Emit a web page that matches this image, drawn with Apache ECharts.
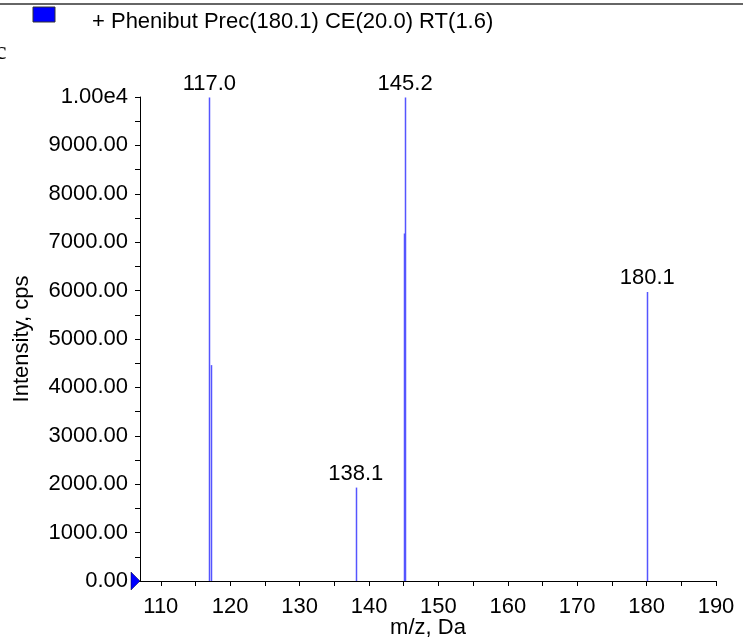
<!DOCTYPE html>
<html><head><meta charset="utf-8">
<script src="https://cdn.jsdelivr.net/npm/echarts@6/dist/echarts.min.js"></script>
<style>html,body{margin:0;padding:0;background:#fff}#c{width:743px;height:641px}</style>
</head><body><div id="c"></div>
<script>
// Peak data (m/z, intensity in cps)
const mz = [117.0, 117.2, 138.1, 145.0, 145.2, 180.1];
const intensity = [9990, 4460, 1930, 7180, 9990, 5970];
const peakLabels = ['117.0', '', '138.1', '', '145.2', '180.1'];
// Axis ticks
const xLabelValues = [110, 120, 130, 140, 150, 160, 170, 180, 190];
const xTickValues = [110, 115, 120, 125, 130, 135, 140, 145, 150, 155, 160, 165, 170, 175, 180, 185, 190];
const titleText = '+ Phenibut Prec(180.1) CE(20.0) RT(1.6)';

const FONT = 'Liberation Sans';
const FS = 22;
const chart = echarts.init(document.getElementById('c'), null, {renderer: 'canvas'});

const data = mz.map((m, i) => [m, intensity[i]]);

const option = {
  animation: false,
  backgroundColor: '#fff',
  grid: {left: 140, right: 27, top: 97, bottom: 60, containLabel: false, outerBoundsMode: 'none'},
  xAxis: {
    type: 'value', min: 107, max: 190,
    name: 'm/z, Da', nameLocation: 'middle', nameGap: 36, nameMoveOverlap: false,
    nameTextStyle: {fontFamily: FONT, fontSize: FS, color: '#000'},
    axisLine: {show: true, lineStyle: {color: '#000', width: 1}},
    axisTick: {show: true, customValues: xTickValues, length: 5, lineStyle: {color: '#000'}},
    axisLabel: {customValues: xLabelValues, fontFamily: FONT, fontSize: FS, color: '#000', margin: 15},
    splitLine: {show: false}
  },
  yAxis: {
    type: 'value', min: 0, max: 10000, interval: 1000,
    name: 'Intensity, cps', nameLocation: 'middle', nameGap: 107, nameMoveOverlap: false,
    nameTextStyle: {fontFamily: FONT, fontSize: FS, color: '#000'},
    axisLine: {show: true, lineStyle: {color: '#000', width: 1}},
    axisTick: {show: true, length: 5, lineStyle: {color: '#000'}},
    minorTick: {show: true, splitNumber: 2, length: 5, lineStyle: {color: '#000'}},
    axisLabel: {
      fontFamily: FONT, fontSize: FS, color: '#000', margin: 12,
      formatter: v => v === 10000 ? '1.00e4' : v.toFixed(2)
    },
    splitLine: {show: false}
  },
  series: [{
    type: 'custom',
    clip: false,
    data: data,
    renderItem: function (params, api) {
      const x = api.value(0), y = api.value(1);
      const p0 = api.coord([x, 0]);
      const p1 = api.coord([x, y]);
      const px = Math.round(p0[0]) + 0.5;
      const children = [{
        type: 'line',
        shape: {x1: px, y1: p0[1], x2: px, y2: p1[1]},
        style: {stroke: '#5555ff', lineWidth: 1.5}
      }];
      const lab = peakLabels[params.dataIndex];
      if (lab) {
        children.push({
          type: 'text',
          style: {text: lab, x: p1[0], y: p1[1] - 3, align: 'center', verticalAlign: 'bottom',
            font: FS + 'px "' + FONT + '"', fill: '#000'}
        });
      }
      return {type: 'group', children: children};
    }
  }]
};
chart.setOption(option);

const origin = chart.convertToPixel({gridIndex: 0}, [107, 0]);
chart.setOption({
  graphic: [
    {type: 'line', shape: {x1: 0, y1: 4, x2: 743, y2: 4}, style: {stroke: '#333', lineWidth: 1.5}},
    {type: 'rect', shape: {x: 33, y: 7, width: 22, height: 15}, style: {fill: '#0000ff', stroke: '#333', lineWidth: 1}},
    {type: 'text', style: {text: titleText, x: 92, y: 22, verticalAlign: 'middle', font: FS + 'px "' + FONT + '"', fill: '#000'}},
    {type: 'text', style: {text: 'c', x: -5, y: 52, verticalAlign: 'middle', font: '26px "Liberation Serif"', fill: '#000'}},
    {type: 'polygon', shape: {points: [[origin[0] - 9, origin[1] - 9], [origin[0], origin[1]], [origin[0] - 9, origin[1] + 9]]},
      style: {fill: '#0000ff', stroke: '#000033', lineWidth: 0.5}, z: 10}
  ]
});
</script>
</body></html>
